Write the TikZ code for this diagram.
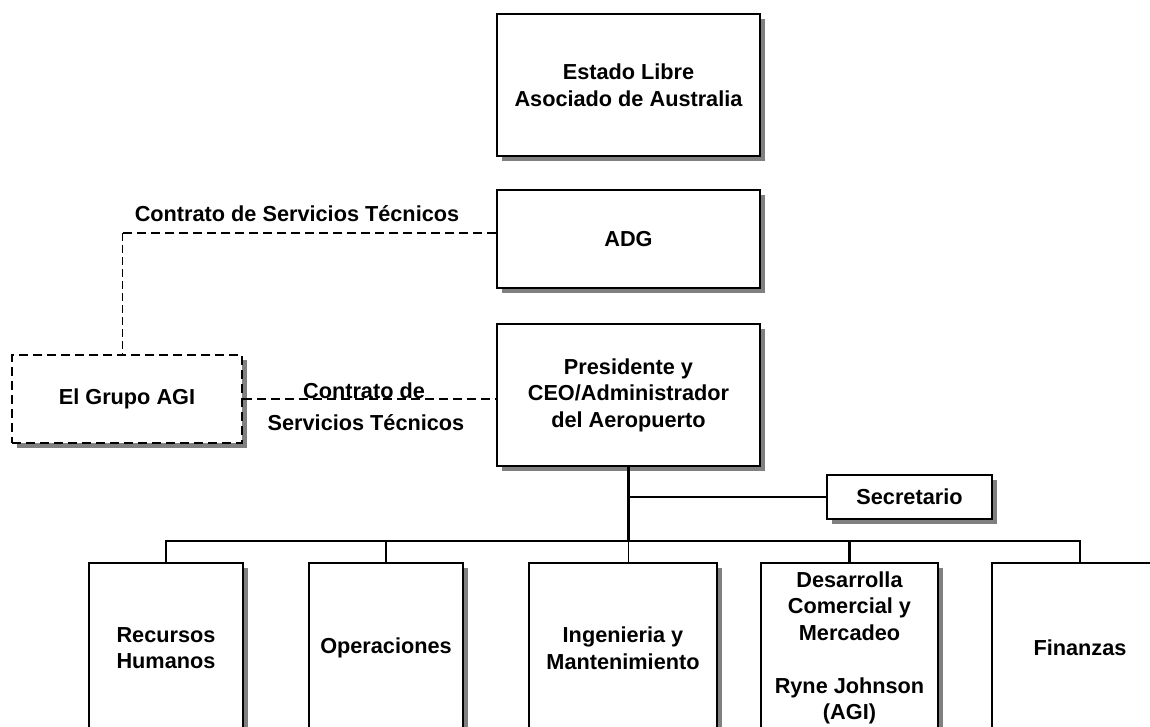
\documentclass[tikz,border=0pt]{standalone}
\usepackage{fontspec}
\setmainfont{Liberation Sans}
\usetikzlibrary{shadows}
\begin{document}
\begin{tikzpicture}[x=1pt,y=-1pt,
  myshadow/.style={drop shadow={shadow xshift=5pt, shadow yshift=-5pt, fill=black!50, opacity=1}},
  txt/.style={font=\bfseries\fontsize{21.7}{26.5}\selectfont, align=center},
  box/.style={txt, draw, line width=2pt, fill=white, inner sep=0pt, myshadow},
  dashbox/.style={box, dash pattern=on 9pt off 5pt},
  conn/.style={line width=2.4pt},
  thinconn/.style={line width=1pt},
  dconn/.style={line width=2.4pt, dash pattern=on 9pt off 5pt},
  dthin/.style={line width=1pt, dash pattern=on 8pt off 4pt}]
\clip (0,0) rectangle (1150,727);
\fill[white] (0,0) rectangle (1150,727);

\node[box, minimum width=263, minimum height=142] (estado) at (628.5,85) {Estado Libre\\Asociado de Australia};
\node[box, minimum width=263, minimum height=98] (adg) at (628.5,239) {ADG};
\node[box, minimum width=263, minimum height=142] (pres) at (628.5,395) {Presidente y\\CEO/Administrador\\del Aeropuerto};
\node[dashbox, minimum width=230, minimum height=88] (grupo) at (127,399) {El Grupo AGI};
\node[box, minimum width=165, minimum height=44] (sec) at (909.5,497) {Secretario};

\node[box, minimum width=154, minimum height=170] (rh) at (166,648) {Recursos\\Humanos};
\node[box, minimum width=154, minimum height=170] (op) at (386,648) {Operaciones};
\node[box, minimum width=188, minimum height=170] (ing) at (623,648) {Ingenieria y\\Mantenimiento};
\node[box, minimum width=177, minimum height=170] (des) at (849.5,648) {Desarrolla\\Comercial y\\Mercadeo\\[26.5pt]Ryne Johnson\\(AGI)};
\node[box, minimum width=176, minimum height=170] (fin) at (1080,648) {Finanzas};

\coordinate (busL) at (166,541);
\coordinate (c1) at (122,233);

% dashed contract lines
\draw[dconn] (adg.west |- c1) -- (c1);
\draw[dthin] (c1) -- (grupo.north -| c1);
\draw[dconn] (grupo.east) -- (grupo.east -| pres.west);

\node[txt, anchor=base] (lab1) at (297,222) {Contrato de Servicios Técnicos};
\node[txt, anchor=base] (lab2) at (364,398) {Contrato de};
\node[txt, anchor=base] (lab3) at (366,430) {Servicios Técnicos};

% hierarchy
\draw[conn] (pres.south) -- (pres.south |- busL);
\draw[conn] (pres.south |- sec.west) -- (sec.west);
\draw[conn, line join=miter] (rh.north) -- (rh.north |- busL) -| (fin.north);
\draw[conn] (op.north) -- (op.north |- busL);
\draw[conn] (des.north) -- (des.north |- busL);
\draw[thinconn] (pres.south |- busL) -- (pres.south |- ing.north);
\end{tikzpicture}
\end{document}
